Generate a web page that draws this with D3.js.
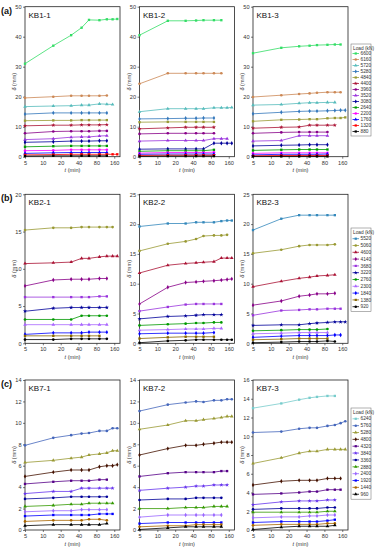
<!DOCTYPE html>
<html><head><meta charset="utf-8">
<script src="https://cdn.jsdelivr.net/npm/d3@7"></script>
<style>body{margin:0;background:#fff}svg{display:block}text{font-family:"Liberation Sans",Arial,sans-serif}</style>
</head><body>
<svg id="c" width="379" height="550"></svg>
<script>
// ---- data ----
const times = [5, 15, 30, 45, 60, 90, 120, 150, 180];
const xTicks = [5, 10, 20, 40, 80, 160];

const loadsA = [6600, 6160, 5720, 5280, 4840, 4400, 3960, 3520, 3080, 2640, 2200, 1760, 1320, 880];
const loadsB = [5520, 5060, 4600, 4140, 3680, 3220, 2760, 2300, 1840, 1380, 920];
const loadsC = [6240, 5760, 5280, 4800, 4320, 3840, 3360, 2880, 2400, 1920, 1440, 960];

const colorsA = ['#33dd66','#cc8855','#55bbbb','#3377bb','#999933','#aa1133','#880088','#9933dd','#000099','#009900','#ff00ff','#0000ff','#ff0000','#000000'];
const colorsB = ['#3388bb','#999933','#aa1133','#880088','#9933dd','#000099','#009900','#aa66ff','#0000ff','#886600','#000000'];
const colorsC = ['#77cccc','#4466bb','#999933','#441100','#550088','#6633ee','#000099','#339900','#9966ff','#0000ff','#aa6600','#000000'];

// series values per panel, same order as the load arrays (null = load not applied)
const kb1_1 = [
  [31, 37, 40.5, 43, 45.6, 45.5, 45.8, 45.8, 45.9],
  [19.6, 20, 20.3, 20.3, 20.3, 20.3, 20.4],
  [16.7, 16.9, 17.0, 17.2, 17.2, 17.6, 17.5, 17.4],
  [14.2, 14.6, 14.6, 14.6, 14.6, 14.6, 14.6],
  [12.0, 12.1, 12.1, 12.2, 12.2, 12.2, 12.2],
  [10.3, 10.5, 10.5, 10.6, 10.6, 10.6, 10.7],
  [7.8, 8.4, 8.5, 8.5, 8.5, 8.6, 8.6],
  [5.7, 6.0, 6.5, 6.6, 6.6, 6.9, 7.0],
  [4.8, 5.0, 5.2, 5.2, 5.2, 5.3, 5.3],
  [3.3, 3.5, 3.6, 3.6, 3.6, 3.6, 3.6],
  [2.0, 2.1, 2.3, 2.3, 2.3, 2.3, 2.3],
  [1.1, 1.3, 1.4, 1.4, 1.4, 1.4, 1.4],
  [0.6, 0.7, 0.8, 0.8, 0.8, 0.8, 0.8, 0.8, 0.8],
  [0.2, 0.3, 0.3, 0.3, 0.3, 0.3, 0.3]
];
const kb1_2 = [
  [40.5, 45.3, 45.3, 45.4, 45.5, 45.5, 45.5],
  [24.3, 27.8, 27.8, 27.8, 27.8, 27.8, 27.8],
  [15.0, 16.0, 16.0, 16.0, 16.0, 16.3, 16.3, 16.3, 16.4],
  [12.6, 12.7, 12.8, 12.8, 12.9, 12.9],
  [11.5, 11.6, 11.6, 11.6, 11.6, 11.6],
  [9.3, 9.6, 9.8, 9.8, 9.8, 9.8],
  [7.6, 7.8, 7.8, 7.8, 7.8, 7.8],
  [5.2, 5.4, 5.4, 5.4, 5.4, 6.0, 6.0, 6.0],
  [2.5, 2.6, 2.6, 2.6, 2.6, 4.5, 4.5, 4.5, 4.5],
  [1.8, 2.0, 2.0, 2.0, 2.0, 2.3],
  [1.2, 1.4, 1.4, 1.4, 1.4, 1.5],
  [0.8, 0.9, 0.9, 0.9, 0.9, 0.9],
  [0.4, 0.5, 0.5, 0.5, 0.5, 0.5],
  [0.1, 0.2, 0.2, 0.2, 0.2, 0.2]
];
const kb1_3 = [
  [34.5, 36.3, 36.8, 37.0, 37.2, 37.3, 37.4, 37.4],
  [19.9, 20.5, 20.9, 21.1, 21.3, 21.5, 21.5, 21.5],
  [17.2, 17.4, 17.8, 18.0, 18.0, 18.1, 18.1],
  [14.3, 14.8, 15.1, 15.2, 15.2, 15.3, 15.4, 15.5, 15.5],
  [11.8, 12.3, 12.4, 12.5, 12.5, 12.8, 12.9, 12.9, 13.1],
  [9.5, 9.8, 9.9, 10.5, 10.5, 10.5, 10.5],
  [7.8, 8.1, 8.2, 8.2, 8.2, 8.2],
  [5.2, 5.4, 7.0, 7.0, 7.0, 7.0],
  [3.6, 3.8, 3.9, 4.0, 4.0, 4.0],
  [2.1, 2.3, 2.4, 2.4, 2.4, 2.4],
  [1.1, 1.3, 1.3, 1.3, 1.3, 1.3],
  [0.6, 0.8, 0.8, 0.8, 0.8, 0.9],
  [0.3, 0.4, 0.4, 0.4, 0.4, 0.4],
  [0.1, 0.1, 0.1, 0.1, 0.1, 0.1]
];
const kb2_1 = [
  null,
  [15.2, 15.5, 15.5, 15.6, 15.6, 15.6, 15.6, 15.6],
  [10.7, 10.8, 10.9, 11.4, 11.4, 11.6, 11.7, 11.7, 11.7],
  [7.7, 8.5, 8.6, 8.6, 8.6, 8.7, 8.7],
  [6.2, 6.2, 6.2, 6.2, 6.2, 6.3, 6.3],
  [4.3, 4.7, 4.8, 4.8, 4.8, 4.8, 4.8],
  [3.2, 3.2, 3.2, 3.7, 3.7, 3.7, 3.7],
  [2.5, 2.5, 2.5, 2.5, 2.5, 2.5, 2.5],
  [1.2, 1.4, 1.4, 1.4, 1.5, 1.5, 1.5],
  [1.0, 1.0, 1.0, 1.0, 1.0, 1.0],
  [0.5, 0.5, 0.6, 0.6, 0.6, 0.6, 0.6]
];
const kb2_2 = [
  [19.6, 20.1, 20.1, 20.3, 20.3, 20.3, 20.5, 20.6, 20.6],
  [15.5, 16.7, 17.1, 17.5, 18.0, 18.1, 18.1, 18.2],
  [11.8, 13.1, 13.4, 13.5, 13.6, 13.7, 14.3, 14.3, 14.3],
  [6.6, 9.4, 10.2, 10.3, 10.4, 10.5, 10.6, 10.7, 10.8],
  [5.4, 6.1, 6.5, 6.6, 6.6, 6.6, 6.6],
  [4.1, 4.5, 4.6, 4.7, 4.8, 4.8, 4.8],
  [3.0, 3.2, 3.3, 3.4, 3.4, 3.5, 3.5],
  [2.2, 2.3, 2.4, 2.4, 2.4, 2.5, 2.5],
  [1.6, 1.7, 1.7, 1.7, 1.7, 1.8],
  [0.8, 1.0, 1.1, 1.1, 1.1, 1.1],
  [0.1, 0.4, 0.5, 0.6, 0.6, 0.6, 0.6, 0.6, 0.6]
];
const kb2_3 = [
  [19.0, 20.9, 21.5, 21.5, 21.5, 21.5, 21.5],
  [15.1, 15.7, 16.3, 16.5, 16.5, 16.5, 16.6],
  [9.5, 10.4, 10.9, 11.1, 11.3, 11.4, 11.5],
  [6.4, 7.1, 7.9, 8.1, 8.3, 8.3, 8.4],
  [4.7, 5.5, 5.6, 5.7, 5.7, 5.8, 5.8, 5.8],
  [3.0, 3.1, 3.1, 3.3, 3.4, 3.5, 3.6, 3.6, 3.6],
  [2.1, 2.2, 2.3, 2.3, 2.3, 2.4],
  [1.6, 1.7, 1.8, 1.8, 1.8, 1.8],
  [1.0, 1.2, 1.3, 1.3, 1.3, 1.3, 1.4, 1.4],
  [0.6, 0.7, 0.8, 0.8, 0.8, 0.8],
  [0.1, 0.2, 0.3, 0.3, 0.3, 0.4, 0.3]
];
const kb7_1 = [
  null,
  [7.9, 8.6, 8.85, 9.0, 9.05, 9.25, 9.25, 9.5, 9.5],
  [6.3, 6.5, 6.7, 6.8, 7.0, 7.1, 7.2, 7.4, 7.4],
  [5.0, 5.4, 5.6, 5.6, 5.6, 5.9, 6.0, 6.0, 6.1],
  [4.3, 4.5, 4.6, 4.6, 4.6, 4.7, 4.7],
  [3.4, 3.6, 3.6, 3.9, 3.9, 3.9, 3.9, 3.9],
  [2.9, 3.0, 3.1, 3.1, 3.1, 3.1, 3.1],
  [2.2, 2.3, 2.4, 2.4, 2.5, 2.5, 2.5, 2.5],
  [1.7, 1.8, 1.8, 1.9, 1.9, 1.9, 1.9],
  [1.3, 1.4, 1.4, 1.4, 1.4, 1.5, 1.5, 1.5],
  [0.8, 0.9, 0.9, 0.9, 1.0, 1.0, 0.9],
  [0.4, 0.5, 0.5, 0.5, 0.5, 0.5, 0.6]
];
const kb7_2 = [
  null,
  [11.1, 11.7, 11.9, 12.0, 11.95, 12.1, 12.1, 12.2, 12.2],
  [9.4, 9.8, 10.2, 10.2, 10.3, 10.4, 10.5, 10.6, 10.6],
  [7.0, 7.6, 7.9, 7.9, 8.0, 8.1, 8.2, 8.2, 8.2],
  [5.0, 5.3, 5.4, 5.4, 5.4, 5.4, 5.5, 5.5],
  [3.7, 3.9, 4.0, 4.1, 4.1, 4.2, 4.2, 4.2],
  [2.8, 2.9, 2.9, 3.0, 3.0, 3.0, 3.0],
  [2.0, 2.0, 2.1, 2.1, 2.1, 2.2, 2.2, 2.2],
  [1.2, 1.4, 1.4, 1.4, 1.4, 1.4, 1.4],
  [0.6, 0.7, 0.7, 0.7, 0.7, 0.7, 0.7],
  [0.3, 0.4, 0.4, 0.5, 0.5, 0.5, 0.5],
  [0.05, 0.2, 0.3, 0.3, 0.3, 0.3, 0.3]
];
const kb7_3 = [
  [13.0, 13.5, 13.9, 14.1, 14.2, 14.3, 14.3],
  [10.4, 10.5, 10.8, 10.9, 10.9, 11.1, 11.2, 11.4, 11.6],
  [7.1, 7.7, 8.2, 8.4, 8.4, 8.6, 8.6, 8.6, 8.6],
  [4.8, 5.2, 5.3, 5.3, 5.3, 5.5, 5.5, 5.5],
  [3.8, 3.9, 4.0, 4.1, 4.1, 4.3, 4.3, 4.3],
  [2.7, 3.0, 3.1, 3.1, 3.1, 3.2, 3.2],
  [2.2, 2.3, 2.3, 2.3, 2.3, 2.4, 2.4],
  [1.9, 1.9, 1.9, 1.9, 1.9, 2.0, 2.0],
  [1.3, 1.4, 1.4, 1.5, 1.5, 1.6, 1.6],
  [0.8, 0.9, 0.9, 0.9, 0.9, 1.0, 1.1],
  [0.5, 0.6, 0.6, 0.6, 0.6, 0.7, 0.7],
  [0.05, 0.3, 0.4, 0.4, 0.4, 0.4, 0.5]
];

const titles = ['KB1-1','KB1-2','KB1-3','KB2-1','KB2-2','KB2-3','KB7-1','KB7-2','KB7-3'];
const yMaxes = [50, 50, 50, 20, 25, 25, 14, 14, 16];
const ySteps = [10, 10, 10, 5, 5, 5, 2, 2, 2];
const rowLabels = ['(a)', '(b)', '(c)'];

// ---- layout ----
const colLeft = [25, 139.5, 253];
const plotW = 95;
const rowTop = [6.7, 194.3, 380];
const rowBottom = [156.7, 343.3, 530];
const legendTop = [44, 228, 408];
const legendStep = [6.0, 6.8, 6.86];

const svg = d3.select('#c');
const symbols = [d3.symbolSquare, d3.symbolCircle, d3.symbolTriangle, d3.symbolDiamond, d3.symbolSquare, d3.symbolStar, d3.symbolCircle, d3.symbolTriangle, d3.symbolDiamond, d3.symbolSquare, d3.symbolCircle, d3.symbolTriangle, d3.symbolSquare, d3.symbolSquare];

const rows = [
  {loads: loadsA, colors: colorsA, panels: [kb1_1, kb1_2, kb1_3]},
  {loads: loadsB, colors: colorsB, panels: [kb2_1, kb2_2, kb2_3]},
  {loads: loadsC, colors: colorsC, panels: [kb7_1, kb7_2, kb7_3]}
];

rows.forEach((row, r) => {
  svg.append('text').attr('x', 1).attr('y', rowTop[r] + 7)
    .attr('font-family', '"Liberation Serif","DejaVu Serif",serif').attr('font-weight', 'bold')
    .attr('font-size', 9).attr('fill', '#111').text(rowLabels[r]);

  row.panels.forEach((data, c) => {
    const i = r * 3 + c;
    const x0 = colLeft[c], x1 = x0 + plotW, y0 = rowTop[r], y1 = rowBottom[r];
    const x = d3.scaleLog().domain([5, 200]).range([x0, x1]);
    const y = d3.scaleLinear().domain([0, yMaxes[i]]).range([y1, y0]);
    const g = svg.append('g');

    // axes
    const xa = g.append('g').attr('transform', `translate(0,${y1})`)
      .call(d3.axisBottom(x).tickValues(xTicks).tickFormat(d3.format('d')).tickSize(2).tickPadding(2));
    const ya = g.append('g').attr('transform', `translate(${x0},0)`)
      .call(d3.axisLeft(y).ticks(yMaxes[i] / ySteps[i]).tickValues(d3.range(0, yMaxes[i] + 0.001, ySteps[i])).tickSize(2).tickPadding(1.5));
    [xa, ya].forEach(a => {
      a.selectAll('.domain').remove();
      a.selectAll('line').attr('stroke', '#222').attr('stroke-width', 0.6);
      a.selectAll('text').attr('font-size', 5.6).attr('fill', '#333').attr('font-family', '"Liberation Sans",Arial,sans-serif');
    });
    g.append('rect').attr('x', x0).attr('y', y0).attr('width', plotW).attr('height', y1 - y0)
      .attr('fill', 'none').attr('stroke', '#222').attr('stroke-width', 0.8);

    // labels
    g.append('text').attr('x', (x0 + x1) / 2).attr('y', y1 + 15.5).attr('text-anchor', 'middle')
      .attr('font-size', 5.6).attr('fill', '#333')
      .html('<tspan font-style="italic">t</tspan> (min)');
    g.append('text').attr('transform', `translate(${x0 - 9},${(y0 + y1) / 2}) rotate(-90)`)
      .attr('text-anchor', 'middle').attr('font-size', 5.6).attr('fill', '#333')
      .html('<tspan font-style="italic">δ</tspan> (mm)');
    g.append('text').attr('x', x0 + 3.5).attr('y', y0 + 11).attr('font-size', 8).attr('fill', '#111').text(titles[i]);

    // series (draw lowest loads first so higher sit on top? draw in reverse)
    const line = d3.line().x(d => x(d[0])).y(d => y(d[1]));
    data.forEach((vals, k) => {
      if (!vals) return;
      const pts = vals.map((v, j) => [times[j], v]);
      g.append('path').datum(pts).attr('d', line).attr('fill', 'none')
        .attr('stroke', row.colors[k]).attr('stroke-width', 0.8);
      g.selectAll(null).data(pts).enter().append('path')
        .attr('transform', d => `translate(${x(d[0])},${y(d[1])})`)
        .attr('d', d3.symbol().type(symbols[k]).size(5.5))
        .attr('fill', row.colors[k]);
    });
  });

  // legend
  const lx = 351, lw = 20, ly = legendTop[r], st = legendStep[r];
  const n = row.loads.length;
  const lg = svg.append('g');
  lg.append('rect').attr('x', lx).attr('y', ly).attr('width', lw).attr('height', st * (n + 1) + 2)
    .attr('fill', '#fff').attr('stroke', '#666').attr('stroke-width', 0.5);
  lg.append('text').attr('x', lx + 2).attr('y', ly + st - 0.5).attr('font-size', 4.8).attr('fill', '#333').text('Load (kN)');
  row.loads.forEach((ld, k) => {
    const yy = ly + st * (k + 1.5) + 0.5;
    lg.append('line').attr('x1', lx + 1.5).attr('x2', lx + 8).attr('y1', yy).attr('y2', yy)
      .attr('stroke', row.colors[k]).attr('stroke-width', 0.8);
    lg.append('path').attr('transform', `translate(${lx + 4.75},${yy})`)
      .attr('d', d3.symbol().type(symbols[k]).size(5)).attr('fill', row.colors[k]);
    lg.append('text').attr('x', lx + 9.5).attr('y', yy + 1.7).attr('font-size', 4.8).attr('fill', '#333').text(ld);
  });
});
</script>
</body></html>
